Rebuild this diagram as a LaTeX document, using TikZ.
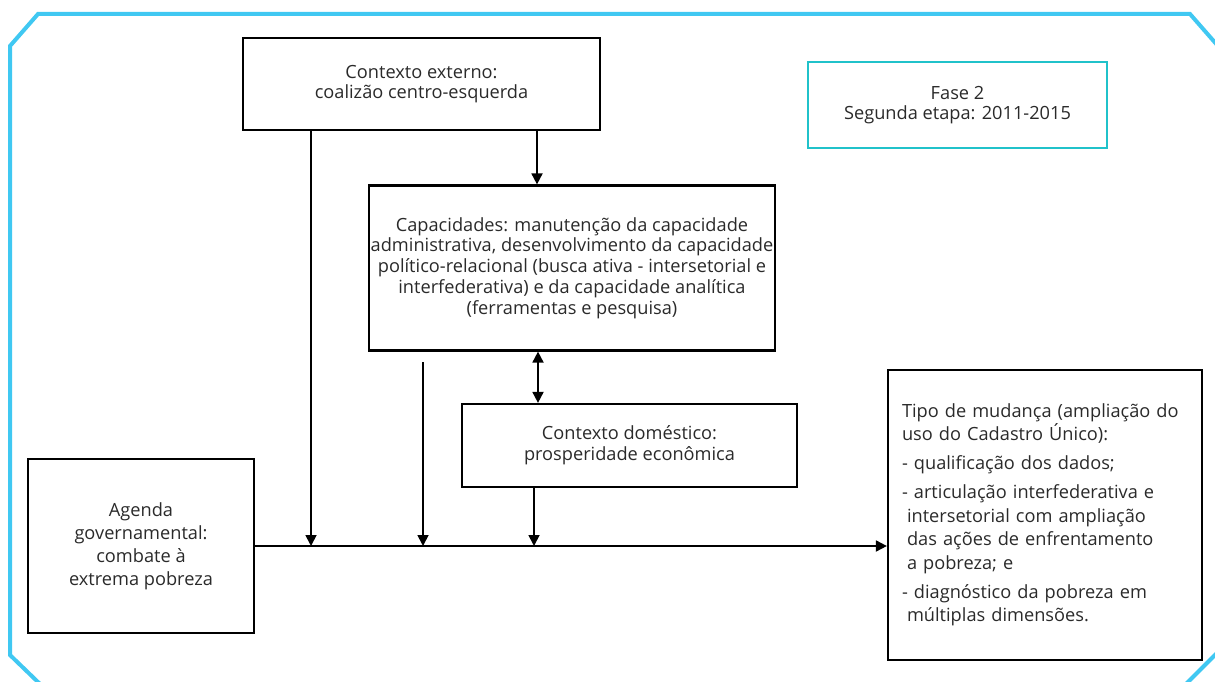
\documentclass[tikz,border=0pt]{standalone}
\usepackage{fontspec}
\setmainfont{Open Sans}
\usetikzlibrary{arrows.meta}
\definecolor{framec}{HTML}{40C8F2}
\definecolor{fasec}{HTML}{20C2CA}
\definecolor{txt}{HTML}{2A2A2A}
\begin{document}
\begin{tikzpicture}[x=1pt,y=-1pt,
 box/.style={draw=black,line width=2.2pt,text=txt,align=center,font=\fontsize{18.2}{20.8}\selectfont,inner sep=0pt},
 arr/.style={line width=1.8pt,-{Triangle[length=11pt,width=11pt]}},
 darr/.style={line width=1.8pt,{Triangle[length=11pt,width=11pt]}-{Triangle[length=11pt,width=11pt]}},
 ln/.style={line width=1.8pt}]
\useasboundingbox (0,0) rectangle (1215,682);
\clip (0,0) rectangle (1215,682);
% frame
\draw[framec,line width=4pt] (10,46)--(38,14)--(1190,14)--(1218,46)--(1218,652)--(1186,684)--(40,684)--(10,655)--cycle;
% boxes
\node[box,minimum width=357pt,minimum height=92pt] (ext) at (421.5,84) {Contexto externo:\\coalizão centro-esquerda};
\node[box,draw=fasec,line width=2pt,minimum width=299pt,minimum height=86pt] (fase) at (957.5,105) {Fase 2\\Segunda etapa: 2011-2015};
\node[box,minimum width=406pt,minimum height=165pt] (cap) at (572,268) {Capacidades: manutenção da capacidade\\administrativa, desenvolvimento da capacidade\\político-relacional (busca ativa - intersetorial e\\interfederativa) e da capacidade analítica\\(ferramentas e pesquisa)};
\node[box,minimum width=335pt,minimum height=83pt] (dom) at (629.5,445.5) {Contexto doméstico:\\prosperidade econômica};
\node[box,minimum width=226pt,minimum height=174pt,font=\fontsize{18.2}{23}\selectfont] (agenda) at (141,546) {Agenda\\governamental:\\combate à\\extrema pobreza};
\node[box,align=left,text width=286pt,inner xsep=14pt,minimum height=290pt,font=\fontsize{18.2}{23.5}\selectfont] (tipo) at (1045,515) {Tipo de mudança (ampliação do\\uso do Cadastro Único):\\[5.5pt]
- qualificação dos dados;\\[5.5pt]
- articulação interfederativa e\\
\hspace*{5pt}intersetorial com ampliação\\
\hspace*{5pt}das ações de enfrentamento\\
\hspace*{5pt}a pobreza; e\\[5.5pt]
- diagnóstico da pobreza em\\
\hspace*{5pt}múltiplas dimensões.};
% junction points on the main line
\coordinate (j1) at (311,546);
\coordinate (j2) at (423,546);
\coordinate (j3) at (534,546);
\coordinate (s2) at (423,362);
% connectors
\draw[arr] ([xshift=115.5pt]ext.south) -- ([xshift=-35pt]cap.north);
\draw[arr] ([xshift=-110.5pt]ext.south) -- (j1);
\draw[arr] (s2) -- (j2);
\draw[darr] ([xshift=-34pt]cap.south) -- ([xshift=-91.5pt]dom.north);
\draw[arr] ([xshift=-95.5pt]dom.south) -- (j3);
\draw[arr] (agenda.east) -- (agenda.east -| tipo.west);
\end{tikzpicture}
\end{document}
